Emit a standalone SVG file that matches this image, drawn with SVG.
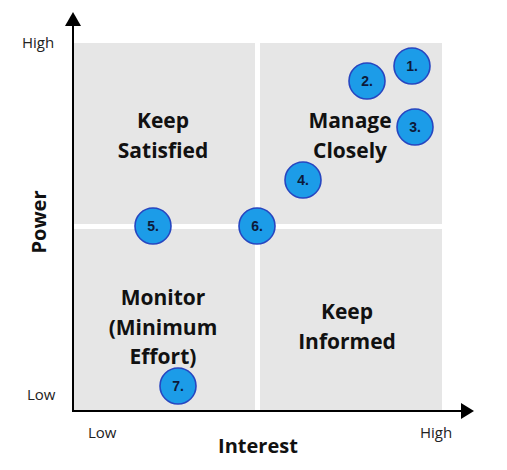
<svg xmlns="http://www.w3.org/2000/svg" width="507" height="470" viewBox="0 0 507 470">
<style>
.q{fill:#e6e6e6}
.ql{font-family:"Open Sans","Liberation Sans",sans-serif;font-weight:700;font-size:21px;fill:#111;text-anchor:middle}
.al{font-family:"Open Sans","Liberation Sans",sans-serif;font-size:15px;fill:#222}
.ax{font-family:"Open Sans","Liberation Sans",sans-serif;font-weight:700;font-size:20px;fill:#111}
.c{fill:#1c9ce8;stroke:#2746c0;stroke-width:1.6}
.n{font-family:"Liberation Sans",Arial,sans-serif;font-weight:700;font-size:14px;fill:#0d1a3a;text-anchor:middle}
</style>
<rect width="507" height="470" fill="#fff"/>
<g id="quad-keep-satisfied"><rect class="q" x="74" y="43" width="181" height="181"/><text class="ql" x="163" y="128">Keep</text><text class="ql" x="163" y="158">Satisfied</text></g>
<g id="quad-manage-closely"><rect class="q" x="260" y="43" width="182" height="181"/><text class="ql" x="350" y="128">Manage</text><text class="ql" x="350" y="158">Closely</text></g>
<g id="quad-monitor"><rect class="q" x="74" y="229" width="181" height="182"/><text class="ql" x="163" y="305">Monitor</text><text class="ql" x="163" y="335">(Minimum</text><text class="ql" x="163" y="364">Effort)</text></g>
<g id="quad-keep-informed"><rect class="q" x="260" y="229" width="182" height="182"/><text class="ql" x="347" y="319">Keep</text><text class="ql" x="347" y="349">Informed</text></g>
<g id="axes">
<line x1="73" y1="24" x2="73" y2="412" stroke="#000" stroke-width="2"/>
<polygon points="73,12 65,26 81,26" fill="#000"/>
<line x1="72" y1="411" x2="462" y2="411" stroke="#000" stroke-width="2"/>
<polygon points="474,411 461,403 461,419" fill="#000"/>
</g>
<g id="labels">
<text class="al" x="22" y="48">High</text>
<text class="al" x="27" y="400">Low</text>
<text class="al" x="88" y="438">Low</text>
<text class="al" x="420" y="438">High</text>
<text class="ax" x="258" y="453" text-anchor="middle">Interest</text>
<text class="ax" transform="translate(46,222) rotate(-90)" text-anchor="middle">Power</text>
</g>
<g id="s1"><circle class="c" cx="412" cy="66" r="18"/><text class="n" x="412" y="71">1.</text></g>
<g id="s2"><circle class="c" cx="367" cy="81" r="18"/><text class="n" x="367" y="86">2.</text></g>
<g id="s3"><circle class="c" cx="415" cy="127" r="18"/><text class="n" x="415" y="132">3.</text></g>
<g id="s4"><circle class="c" cx="303" cy="180" r="18"/><text class="n" x="303" y="185">4.</text></g>
<g id="s5"><circle class="c" cx="153" cy="226" r="18"/><text class="n" x="153" y="231">5.</text></g>
<g id="s6"><circle class="c" cx="257" cy="226" r="18"/><text class="n" x="257" y="231">6.</text></g>
<g id="s7"><circle class="c" cx="178" cy="386" r="18"/><text class="n" x="178" y="391">7.</text></g>
</svg>
